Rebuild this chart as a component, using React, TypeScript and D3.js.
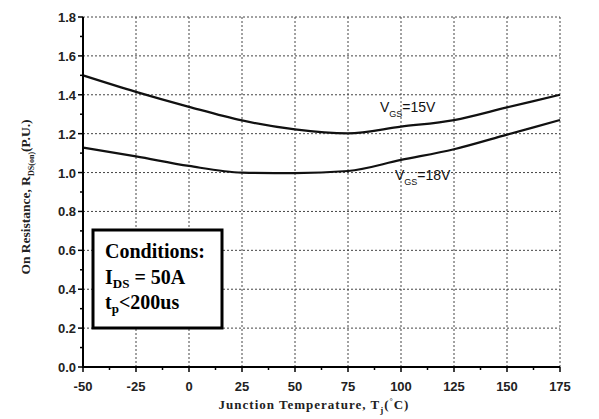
import React from "react";
import * as d3 from "d3";

// Junction temperature (°C)
const temps = [-50, -25, 0, 25, 50, 75, 100, 125, 150, 175];
// Normalised on-resistance, VGS = 15 V
const rds15 = [1.5, 1.415, 1.338, 1.268, 1.222, 1.202, 1.236, 1.27, 1.335, 1.4];
// Normalised on-resistance, VGS = 18 V
const rds18 = [1.128, 1.083, 1.034, 1.0, 0.997, 1.008, 1.065, 1.12, 1.195, 1.27];

const xTicks = [-50, -25, 0, 25, 50, 75, 100, 125, 150, 175];
const yTicks = [0, 0.2, 0.4, 0.6, 0.8, 1.0, 1.2, 1.4, 1.6, 1.8];

const W = 599;
const H = 419;
const M = { left: 83, right: 560, top: 17, bottom: 367 };

export default function App() {
  const x = d3.scaleLinear().domain([-50, 175]).range([M.left, M.right]);
  const y = d3.scaleLinear().domain([0, 1.8]).range([M.bottom, M.top]);

  const line = d3
    .line<[number, number]>()
    .x((d) => x(d[0]))
    .y((d) => y(d[1]))
    .curve(d3.curveMonotoneX);

  const s15 = temps.map((t, i) => [t, rds15[i]] as [number, number]);
  const s18 = temps.map((t, i) => [t, rds18[i]] as [number, number]);

  const xMinor = d3.range(-37.5, 175, 25);
  const yMinor = d3.range(0.1, 1.8, 0.2);

  const gridColor = "#444";
  const tickFont = "'Liberation Sans', Arial, sans-serif";
  const serif = "'Liberation Serif', 'Times New Roman', serif";

  return (
    <svg
      width={W}
      height={H}
      style={{ position: "absolute", left: 0, top: 0, background: "#fff" }}
    >
      <rect x={0} y={0} width={W} height={H} fill="#fff" />

      {/* dotted grid */}
      <g stroke={gridColor} strokeWidth={1} strokeDasharray="2,2">
        {xTicks.slice(1).map((t) => (
          <line key={"gx" + t} x1={x(t)} x2={x(t)} y1={M.top} y2={M.bottom} />
        ))}
        {yTicks.slice(1).map((v) => (
          <line key={"gy" + v} x1={M.left} x2={M.right} y1={y(v)} y2={y(v)} />
        ))}
      </g>

      {/* conditions box */}
      <rect x={93} y={230} width={129} height={98} fill="#fff" stroke="#000" strokeWidth={3} />
      <g fontFamily={serif} fontWeight="bold" fontSize={20} fill="#000">
        <text x={105} y={258}>Conditions:</text>
        <text x={105} y={284}>
          I<tspan fontSize={13} dy={4}>DS</tspan>
          <tspan dy={-4}> = 50A</tspan>
        </text>
        <text x={105} y={309}>
          t<tspan fontSize={13} dy={4}>p</tspan>
          <tspan dy={-4}>&lt;200us</tspan>
        </text>
      </g>

      {/* curves */}
      <path d={line(s15) ?? ""} fill="none" stroke="#111" strokeWidth={2.2} />
      <path d={line(s18) ?? ""} fill="none" stroke="#111" strokeWidth={2.2} />

      {/* axes */}
      <g stroke="#000" strokeWidth={2}>
        <line x1={M.left} x2={M.left} y1={M.top} y2={M.bottom + 1} />
        <line x1={M.left - 1} x2={M.right} y1={M.bottom} y2={M.bottom} />
      </g>
      <g stroke="#000" strokeWidth={1.5}>
        {xTicks.map((t) => (
          <line key={"tx" + t} x1={x(t)} x2={x(t)} y1={M.bottom} y2={M.bottom + 5} />
        ))}
        {xMinor.map((t) => (
          <line key={"mx" + t} x1={x(t)} x2={x(t)} y1={M.bottom} y2={M.bottom + 3} />
        ))}
        {yTicks.map((v) => (
          <line key={"ty" + v} x1={M.left - 5} x2={M.left} y1={y(v)} y2={y(v)} />
        ))}
        {yMinor.map((v) => (
          <line key={"my" + v} x1={M.left - 3} x2={M.left} y1={y(v)} y2={y(v)} />
        ))}
      </g>

      {/* tick labels */}
      <g fontFamily={tickFont} fontWeight="bold" fontSize={13} fill="#222">
        {xTicks.map((t) => (
          <text key={"lx" + t} x={x(t)} y={391} textAnchor="middle">
            {t}
          </text>
        ))}
        {yTicks.map((v) => (
          <text key={"ly" + v} x={76} y={y(v) + 5} textAnchor="end">
            {v.toFixed(1)}
          </text>
        ))}
      </g>

      {/* series labels */}
      <g fontFamily={tickFont} fontSize={14} fill="#111">
        <text x={380} y={112}>
          V<tspan fontSize={9} dy={5}>GS</tspan>
          <tspan dy={-5}>=15V</tspan>
        </text>
        <text x={395} y={180}>
          V<tspan fontSize={9} dy={5}>GS</tspan>
          <tspan dy={-5}>=18V</tspan>
        </text>
      </g>

      {/* axis titles */}
      <text
        x={314}
        y={409}
        textAnchor="middle"
        fontFamily={serif}
        fontWeight="bold"
        fontSize={13}
        letterSpacing={1}
        fill="#222"
      >
        Junction Temperature, T<tspan fontSize={9} dy={4}>j</tspan>
        <tspan dy={-4}>(</tspan>
        <tspan fontSize={8} dy={-5}>°</tspan>
        <tspan dy={5}>C)</tspan>
      </text>
      <text
        transform="translate(30,197) rotate(-90)"
        textAnchor="middle"
        fontFamily={serif}
        fontWeight="bold"
        fontSize={13.5}
        fill="#222"
      >
        On Resistance, R<tspan fontSize={8} dy={4}>DS(on)</tspan>
        <tspan dy={-4}>(P.U.)</tspan>
      </text>
    </svg>
  );
}
